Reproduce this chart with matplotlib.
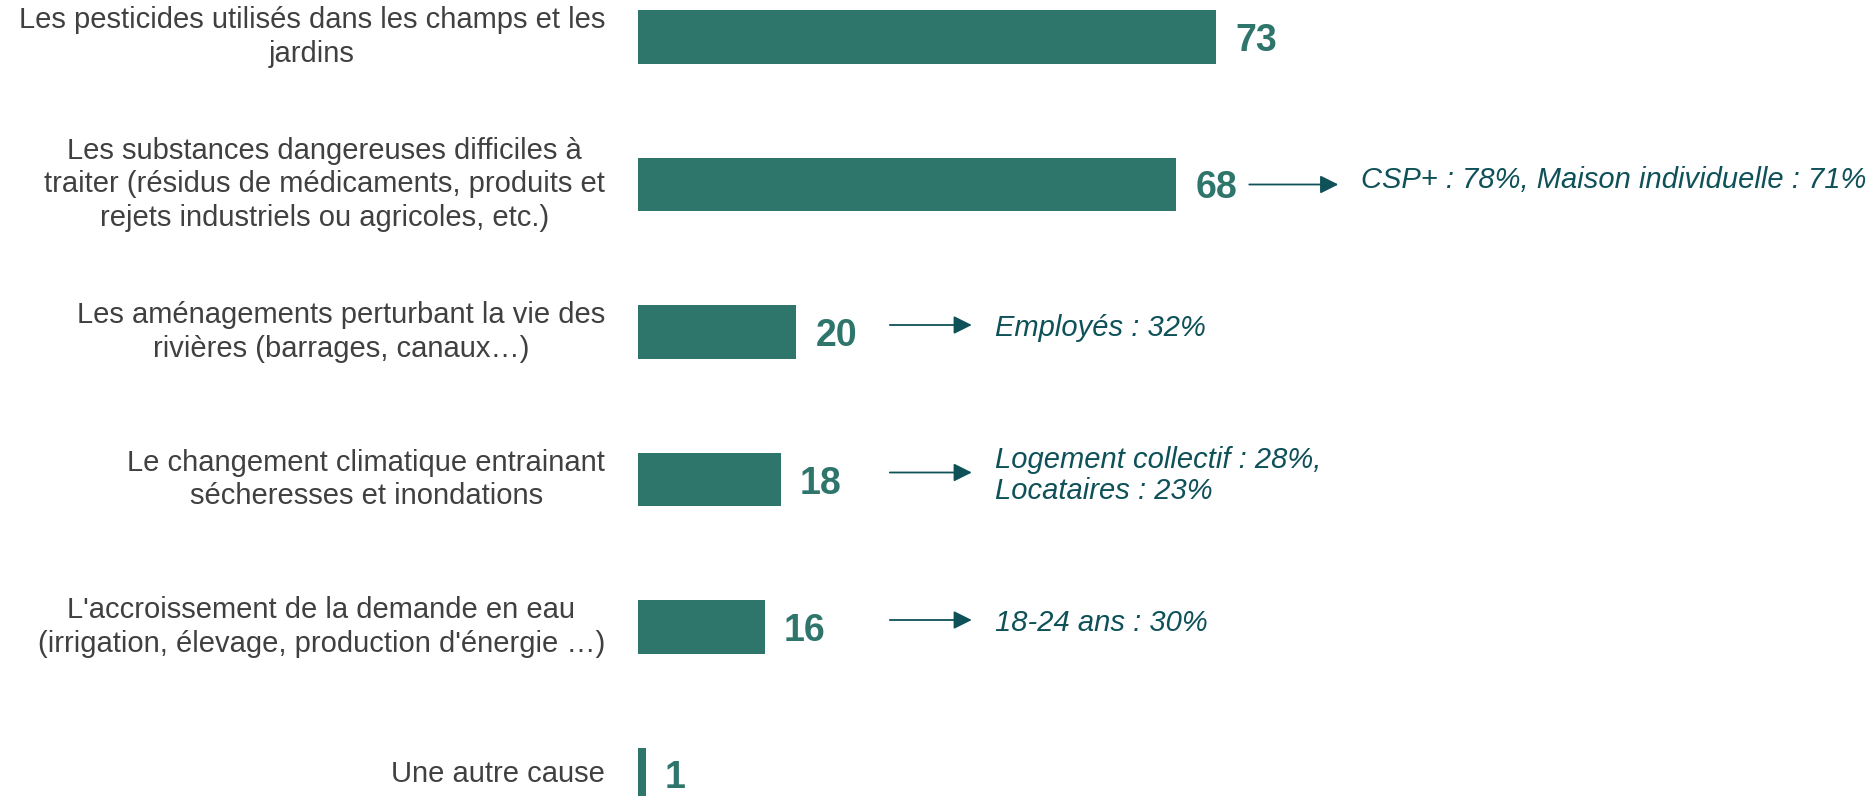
import matplotlib
matplotlib.use("Agg")
import matplotlib.pyplot as plt
from matplotlib.transforms import ScaledTranslation

plt.rcParams['font.family'] = ['Liberation Sans', 'DejaVu Sans']

categories = [
    "Les pesticides utilisés dans les champs et les\njardins",
    "Les substances dangereuses difficiles à\ntraiter (résidus de médicaments, produits et\nrejets industriels ou agricoles, etc.)",
    "Les aménagements perturbant la vie des\nrivières (barrages, canaux…)",
    "Le changement climatique entrainant\nsécheresses et inondations",
    "L'accroissement de la demande en eau\n(irrigation, élevage, production d'énergie …)",
    "Une autre cause",
]
values = [73, 68, 20, 18, 16, 1]
notes = [
    "",
    "CSP+ : 78%, Maison individuelle : 71%",
    "Employés : 32%",
    "Logement collectif : 28%,\nLocataires : 23%",
    "18-24 ans : 30%",
    "",
]

bar_color = "#2e756b"
note_color = "#0e5158"
label_color = "#404040"

fig = plt.figure(figsize=(18.72, 7.96), dpi=100)
ax = fig.add_axes([0, 0, 1, 1])

# pixel layout: bars start at x=638, 7.918 px per point, rows every 147.5 px
px = 7.918
ax.set_xlim(-638 / px, (1872 - 638) / px)
ax.set_ylim((796 - 37) / 147.5, -37 / 147.5)
ax.axis("off")

ys = list(range(len(values)))
ax.barh(ys, values, height=0.366, color=bar_color)

for y, v, cat, note in zip(ys, values, categories, notes):
    ax.annotate(cat, xy=(0, y), xytext=(-33, 0), textcoords="offset pixels",
                ha="right", va="center", multialignment="center",
                fontsize=21, color=label_color, linespacing=1.24)
    ax.annotate(str(v), xy=(v, y), xytext=(19, 0), textcoords="offset pixels",
                ha="left", va="center_baseline", fontsize=27, fontweight="bold",
                color=bar_color)
    if note:
        # arrow right after the value, or in a common column for short bars
        if v + 9.2 > 31.8:
            x0, length, dy = v + 9.2, 89, 0
        else:
            x0, length, dy = 31.8, 82, 7
        x1 = x0 + length / px
        shifted = ax.transData + ScaledTranslation(0, dy / 100, fig.dpi_scale_trans)
        ax.annotate("", xy=(x1, y), xytext=(x0, y),
                    xycoords=shifted, textcoords=shifted,
                    arrowprops=dict(arrowstyle="-|>,head_length=1.1,head_width=0.55",
                                    color=note_color, lw=1.3, shrinkA=0, shrinkB=0),
                    annotation_clip=False)
        ax.annotate(note, xy=(x1, y), xytext=(23, 4), textcoords="offset pixels",
                    ha="left", va="center", fontsize=21, style="italic",
                    color=note_color, linespacing=1.18)

fig.savefig("out.png", dpi=100)
